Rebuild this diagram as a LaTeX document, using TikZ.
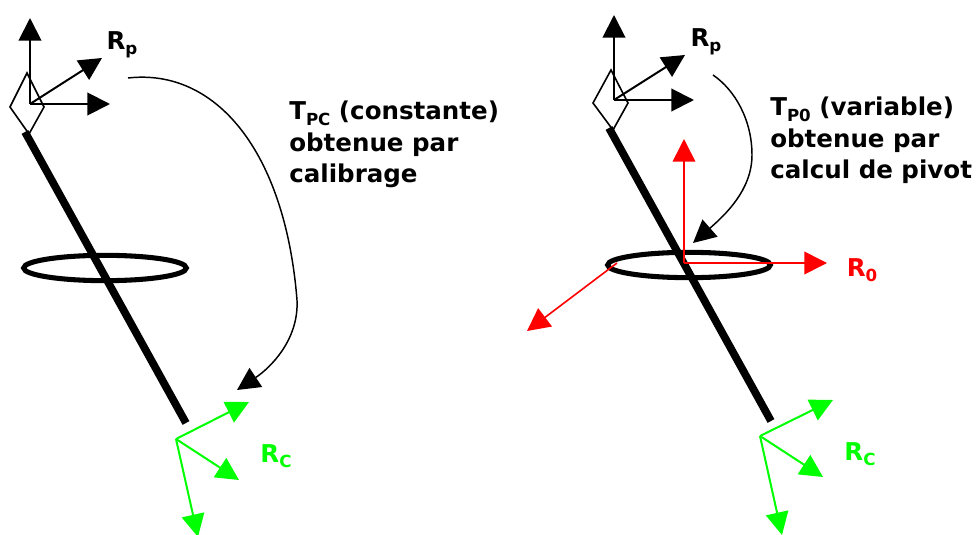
\documentclass[tikz,border=0pt]{standalone}
\usepackage{fontspec}
\setmainfont{DejaVu Sans}
\usetikzlibrary{arrows.meta,positioning,shapes.geometric}
\definecolor{FrameGreen}{HTML}{00FF00}
\definecolor{FrameRed}{HTML}{FF0000}
\newcommand{\lowidx}[1]{\raisebox{-0.22em}{\fontsize{12.5pt}{14pt}\selectfont #1}}
\begin{document}
\begin{tikzpicture}[
  x=0.75pt,y=-0.75pt,
  axisblack/.style={-{Triangle[length=17pt,width=17pt]},line width=1.5pt,draw=black},
  axisgreen/.style={-{Triangle[length=17pt,width=17pt]},line width=1.5pt,draw=FrameGreen},
  axisred/.style={-{Triangle[length=17pt,width=17pt]},line width=1.2pt,draw=FrameRed},
  transfo/.style={-{Triangle[length=17pt,width=17pt]},line width=1.1pt,draw=black},
  stick/.style={line width=5.8pt,draw=black},
  ring/.style={ellipse,line width=3.8pt,draw=black,minimum width=122pt,minimum height=19pt,inner sep=0pt},
  handle/.style={line width=1.2pt,draw=black,line join=miter},
  framelabel/.style={font=\fontsize{18.4pt}{23.6pt}\selectfont\bfseries,inner sep=0pt},
  note/.style={framelabel,align=left,anchor=north west}]
\useasboundingbox (0,0) rectangle (976,535);
% left tool
\coordinate (pl) at (30,104);
\coordinate (plup) at (30,18);
\coordinate (plright) at (110,104);
\coordinate (pldiag) at (102,58);
\coordinate (stickla) at (25,132);
\coordinate (sticklb) at (186,423);
\node[ring] (ringl) at (105,268) {};
\draw[stick] (stickla) -- (sticklb);
\draw[handle] (27,73) -- (10,107) -- (29,134) -- (44,107) -- cycle;
\draw[axisblack] (pl) -- (plup);
\draw[axisblack] (pl) -- (plright);
\draw[axisblack] (pl) -- (pldiag);
\coordinate (cl) at (176,439);
\coordinate (cla) at (249,402);
\coordinate (clb) at (239,480);
\coordinate (clc) at (198,537);
\draw[axisgreen] (cl) -- (cla);
\draw[axisgreen] (cl) -- (clb);
\draw[axisgreen] (cl) -- (clc);
\node[framelabel] (rpl) at (122,45) {R\lowidx{p}};
\node[framelabel,text=FrameGreen] (rcl) at (276,456) {R\lowidx{C}};
\node[note] (notel) at (289,101) {T\lowidx{PC} (constante)\\obtenue par\\calibrage};
\coordinate (tcstart) at (128,78);
\coordinate (tcend) at (237,390);
\draw[transfo] (tcstart) .. controls (215,68) and (285,150) .. (297,300) .. controls (299,340) and (270,368) .. (tcend);
% right tool
\coordinate (pr) at (614,100);
\coordinate (prup) at (614,15);
\coordinate (prright) at (694,100);
\coordinate (prdiag) at (685,55);
\coordinate (stickra) at (609,128);
\coordinate (stickrb) at (771,421);
\node[ring] (ringr) at (689,265) {};
\draw[stick] (stickra) -- (stickrb);
\draw[handle] (611,70) -- (593,103) -- (613,130) -- (628,103) -- cycle;
\draw[axisblack] (pr) -- (prup);
\draw[axisblack] (pr) -- (prright);
\draw[axisblack] (pr) -- (prdiag);
\coordinate (o) at (684,263);
\coordinate (oup) at (684,139);
\coordinate (oright) at (827,263);
\coordinate (osw) at (617,263);
\coordinate (oswend) at (527,331);
\draw[axisred] (o) -- (oup);
\draw[axisred] (o) -- (oright);
\draw[axisred] (osw) -- (oswend);
\coordinate (cr) at (760,436);
\coordinate (cra) at (833,400);
\coordinate (crb) at (823,477);
\coordinate (crc) at (782,535);
\draw[axisgreen] (cr) -- (cra);
\draw[axisgreen] (cr) -- (crb);
\draw[axisgreen] (cr) -- (crc);
\node[framelabel] (rpr) at (706,42) {R\lowidx{p}};
\node[framelabel,text=FrameRed] (ror) at (862,270) {R\lowidx{0}};
\node[framelabel,text=FrameGreen] (rcr) at (860,454) {R\lowidx{C}};
\node[note] (noter) at (770,97) {T\lowidx{P0} (variable)\\obtenue par\\calcul de pivot};
\coordinate (tpstart) at (713,75);
\coordinate (tpend) at (693,243);
\draw[transfo] (tpstart) .. controls (735,90) and (752,120) .. (752,155) .. controls (752,190) and (725,215) .. (tpend);
\end{tikzpicture}
\end{document}
